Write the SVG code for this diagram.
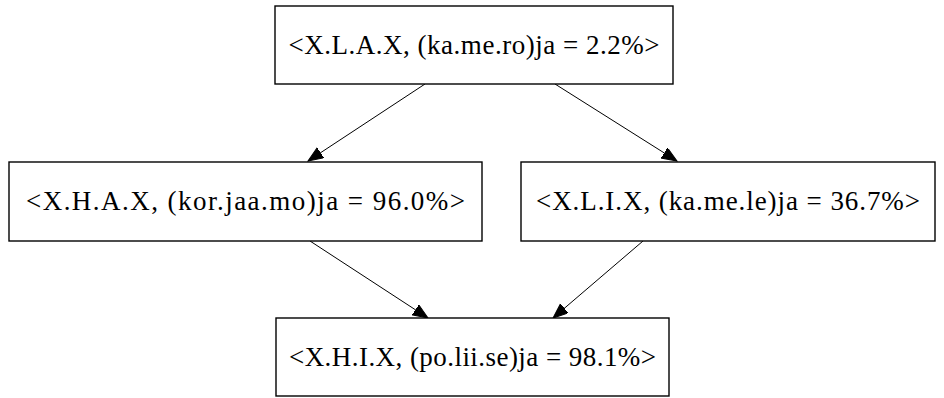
<svg xmlns="http://www.w3.org/2000/svg" width="944" height="398" viewBox="0 0 944 398">
<style>
.box{fill:#fff;stroke:#000;stroke-width:1.4}
.lbl{font-family:"Liberation Serif","Times New Roman",serif;font-size:27px;fill:#000;text-anchor:middle}
.edge{stroke:#000;stroke-width:1;fill:none;marker-end:url(#arr)}
</style>
<defs>
<marker id="arr" markerUnits="userSpaceOnUse" markerWidth="18" markerHeight="14" refX="15" refY="6" orient="auto">
<path d="M0,0 L15,6 L0,12 z" fill="#000" stroke="#000" stroke-width="1"/>
</marker>
</defs>
<rect width="944" height="398" fill="#fff"/>
<g id="connectors">
<line class="edge" x1="425" y1="84" x2="308" y2="161"/>
<line class="edge" x1="555" y1="84" x2="677" y2="161"/>
<line class="edge" x1="310" y1="241" x2="428" y2="318"/>
<line class="edge" x1="643" y1="241" x2="553" y2="318"/>
</g>
<g id="n1">
<rect class="box" x="275" y="6" width="398" height="78"/>
<text class="lbl" x="474" y="54" textLength="371" lengthAdjust="spacing">&lt;X.L.A.X, (ka.me.ro)ja = 2.2%&gt;</text>
</g>
<g id="n2">
<rect class="box" x="9" y="162" width="473" height="79"/>
<text class="lbl" x="245.5" y="210" textLength="439" lengthAdjust="spacing">&lt;X.H.A.X, (kor.jaa.mo)ja = 96.0%&gt;</text>
</g>
<g id="n3">
<rect class="box" x="521" y="162" width="414" height="79"/>
<text class="lbl" x="728" y="210" textLength="384" lengthAdjust="spacing">&lt;X.L.I.X, (ka.me.le)ja = 36.7%&gt;</text>
</g>
<g id="n4">
<rect class="box" x="276" y="318" width="393" height="78"/>
<text class="lbl" x="472.5" y="366" textLength="367" lengthAdjust="spacing">&lt;X.H.I.X, (po.lii.se)ja = 98.1%&gt;</text>
</g>
</svg>
